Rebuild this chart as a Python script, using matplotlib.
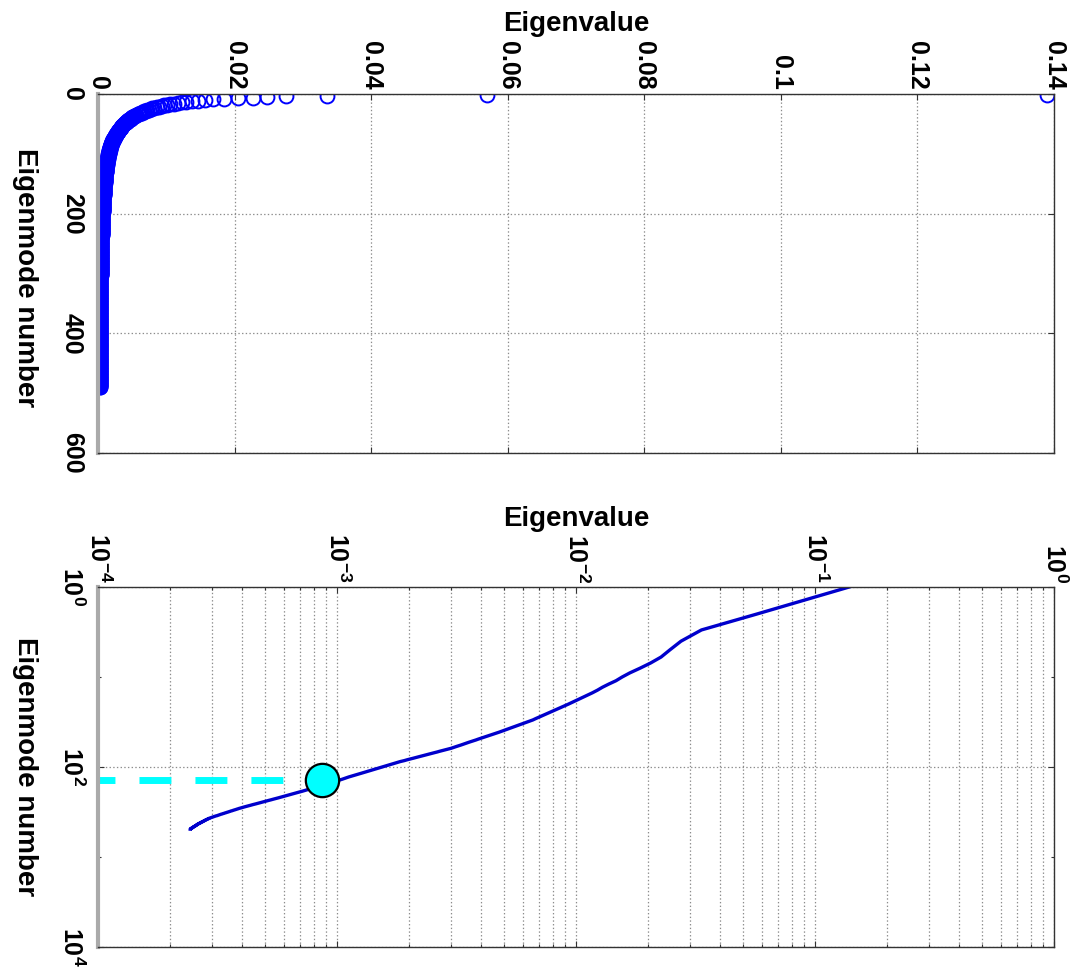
import numpy as np
import matplotlib
matplotlib.use("Agg")
import matplotlib.pyplot as plt
from matplotlib.ticker import FixedLocator, NullFormatter

plt.rcParams['font.family'] = ['Liberation Sans', 'DejaVu Sans']
plt.rcParams['mathtext.default'] = 'regular'
plt.rcParams['lines.scale_dashes'] = False
plt.rcParams['axes.unicode_minus'] = False

# eigenvalues, sorted, in units of 1e-6 (mode 1, 2, 3 ...)
eig_micro = [
    139000, 57000, 33500, 27500, 24700, 22700, 20500, 18500, 16800, 15600,
    14700, 13700, 12900, 12300, 11700, 11120, 10590, 10110, 9690, 9300,
    8920, 8580, 8260, 7960, 7690, 7440, 7210, 6990, 6780, 6600,
    6380, 6170, 5980, 5790, 5620, 5460, 5310, 5160, 5020, 4900,
    4770, 4640, 4520, 4400, 4290, 4190, 4090, 3990, 3900, 3820,
    3730, 3650, 3570, 3500, 3430, 3360, 3300, 3230, 3170, 3110,
    3050, 3000, 2930, 2870, 2800, 2740, 2680, 2630, 2570, 2520,
    2470, 2420, 2370, 2330, 2280, 2240, 2200, 2160, 2120, 2080,
    2040, 2010, 1970, 1940, 1910, 1870, 1840, 1814, 1789, 1765,
    1741, 1718, 1695, 1673, 1651, 1630, 1609, 1589, 1570, 1550,
    1530, 1511, 1493, 1474, 1456, 1439, 1421, 1405, 1388, 1372,
    1356, 1341, 1326, 1311, 1296, 1282, 1268, 1254, 1241, 1227,
    1214, 1202, 1189, 1177, 1165, 1153, 1141, 1130, 1120, 1111,
    1102, 1092, 1083, 1075, 1066, 1057, 1049, 1040, 1032, 1024,
    1016, 1008, 1000, 991, 982, 974, 965, 957, 949, 941,
    933, 925, 917, 910, 902, 895, 888, 880, 873, 866,
    860, 853, 846, 840, 833, 827, 820, 814, 808, 802,
    796, 790, 784, 778, 773, 767, 762, 756, 751, 745,
    740, 735, 730, 725, 720, 715, 709, 704, 699, 694,
    689, 684, 679, 675, 670, 666, 661, 657, 652, 648,
    644, 639, 635, 630, 626, 622, 618, 614, 610, 606,
    602, 598, 594, 591, 587, 583, 580, 576, 573, 569,
    565, 561, 558, 555, 551, 548, 544, 541, 537, 534,
    531, 528, 524, 521, 518, 515, 512, 509, 506, 503,
    500, 497, 495, 492, 489, 486, 483, 481, 478, 475,
    472, 470, 467, 465, 462, 459, 457, 454, 452, 449,
    447, 444, 442, 439, 437, 435, 433, 430, 428, 426,
    424, 422, 419, 417, 415, 413, 411, 409, 407, 405,
    403, 401, 399, 397, 395, 393, 392, 390, 389, 387,
    386, 384, 383, 381, 380, 378, 377, 375, 374, 372,
    371, 369, 368, 366, 365, 364, 362, 361, 359, 358,
    357, 355, 354, 353, 352, 350, 349, 348, 346, 345,
    344, 343, 341, 340, 339, 338, 337, 335, 334, 333,
    332, 331, 329, 328, 327, 326, 325, 324, 323, 322,
    321, 320, 319, 318, 317, 316, 315, 313, 312, 311,
    310, 309, 308, 307, 306, 305, 304, 303, 302, 301,
    300, 299, 299, 298, 297, 296, 295, 294, 293, 293,
    292, 292, 291, 291, 290, 289, 289, 288, 288, 287,
    286, 286, 285, 285, 284, 283, 283, 282, 282, 281,
    281, 280, 280, 279, 279, 278, 278, 277, 277, 276,
    276, 275, 275, 274, 274, 273, 273, 272, 272, 271,
    271, 270, 270, 269, 269, 269, 268, 268, 267, 267,
    266, 266, 265, 265, 264, 264, 263, 263, 262, 262,
    262, 261, 261, 261, 260, 260, 260, 259, 259, 259,
    258, 258, 258, 257, 257, 257, 256, 256, 256, 255,
    255, 255, 254, 254, 254, 253, 253, 253, 252, 252,
    252, 251, 251, 251, 250, 250, 250, 249, 249, 249,
    249, 248, 248, 248, 247, 247, 247, 246, 246, 246,
    246, 245, 245, 245, 244, 244, 244, 243, 243, 243,
]

# highlighted mode (cyan dot) in the log-log panel
marked_mode = 139
marked_value = 8.65e-4

lin_xticks = [0, 0.02, 0.04, 0.06, 0.08, 0.1, 0.12, 0.14]
lin_xticklabels = ['0', '0.02', '0.04', '0.06', '0.08', '0.1', '0.12', '0.14']
lin_yticks = [0, 200, 400, 600]
log_xticks = [1e-4, 1e-3, 1e-2, 1e-1, 1e0]
log_xticklabels = ['$10^{-4}$', '$10^{-3}$', '$10^{-2}$', '$10^{-1}$', '$10^{0}$']
log_yticks = [1, 100, 1e4]
log_yticklabels = ['$10^{0}$', '$10^{2}$', '$10^{4}$']

eigenvalues = np.array(eig_micro) * 1e-6
modes = np.arange(1, len(eigenvalues) + 1)

W, H = 1079, 972
fig = plt.figure(figsize=(W / 100, H / 100), dpi=100)


def px_axes(x0, y0, x1, y1):
    return fig.add_axes([x0 / W, 1 - y1 / H, (x1 - x0) / W, (y1 - y0) / H])


def style_axes(ax):
    ax.xaxis.tick_top()
    ax.tick_params(which='both', direction='in', top=True, bottom=True,
                   left=True, right=True, labeltop=True, labelbottom=False,
                   length=4, width=0.8, color='#333333')
    ax.tick_params(which='minor', length=2)
    ax.tick_params(axis='x', pad=3)
    ax.tick_params(axis='y', pad=10)
    for lab in ax.get_xticklabels():
        lab.set_rotation(-90)
        lab.set_fontsize(18)
        lab.set_fontweight('bold')
    for lab in ax.get_yticklabels():
        lab.set_rotation(-90)
        lab.set_fontsize(18)
        lab.set_fontweight('bold')
        lab.set_va('center')
    for side in ['top', 'right', 'bottom']:
        ax.spines[side].set_color('#333333')
        ax.spines[side].set_linewidth(1.0)
    ax.spines['left'].set_color('#aaaaaa')
    ax.spines['left'].set_linewidth(3.0)


grid_kw = dict(linestyle=':', color='#8c8c8c', linewidth=0.9)

# ---- linear panel
ax1 = px_axes(98, 94, 1054, 453)
ax1.plot(eigenvalues, modes, 'o', mfc='none', mec='#0000ff', ms=10, mew=1.4)
ax1.set_xlim(0, 0.14)
ax1.set_ylim(600, 0)
ax1.set_xticks(lin_xticks)
ax1.set_xticklabels(lin_xticklabels)
ax1.set_yticks(lin_yticks)
ax1.grid(True, **grid_kw)
ax1.set_axisbelow(True)
style_axes(ax1)

# ---- log-log panel
ax2 = px_axes(98, 587, 1054, 947)
ax2.set_xscale('log')
ax2.set_yscale('log')
ax2.plot(eigenvalues, modes, '-', color='#0000cc', lw=2.4)
ax2.plot([1e-4, marked_value], [marked_mode, marked_mode], color='#00ffff',
         lw=5, linestyle=(10.8, (23, 17.3)), solid_capstyle='butt')
ax2.plot(marked_value, marked_mode, 'o', ms=24, mfc='#00ffff', mec='black',
         mew=1.6, zorder=5)
ax2.set_xlim(1e-4, 1)
ax2.set_ylim(1e4, 1)
ax2.set_xticks(log_xticks)
ax2.set_xticklabels(log_xticklabels)
ax2.set_yticks(log_yticks)
ax2.set_yticklabels(log_yticklabels)
ax2.yaxis.set_minor_locator(FixedLocator([10, 1000]))
ax2.yaxis.set_minor_formatter(NullFormatter())
ax2.xaxis.set_minor_formatter(NullFormatter())
ax2.grid(True, axis='x', which='both', **grid_kw)
ax2.grid(True, axis='y', which='major', **grid_kw)
ax2.set_axisbelow(True)
style_axes(ax2)

# axis titles
lab_kw = dict(fontsize=20, fontweight='bold', ha='center', va='center',
              rotation_mode='anchor')
fig.text(576 / W, 1 - 24 / H, 'Eigenvalue', **lab_kw)
fig.text(576 / W, 1 - 519 / H, 'Eigenvalue', **lab_kw)
fig.text(25 / W, 1 - 278 / H, 'Eigenmode number', rotation=-90, **lab_kw)
fig.text(25 / W, 1 - 767 / H, 'Eigenmode number', rotation=-90, **lab_kw)

fig.savefig('out.png', dpi=100)
